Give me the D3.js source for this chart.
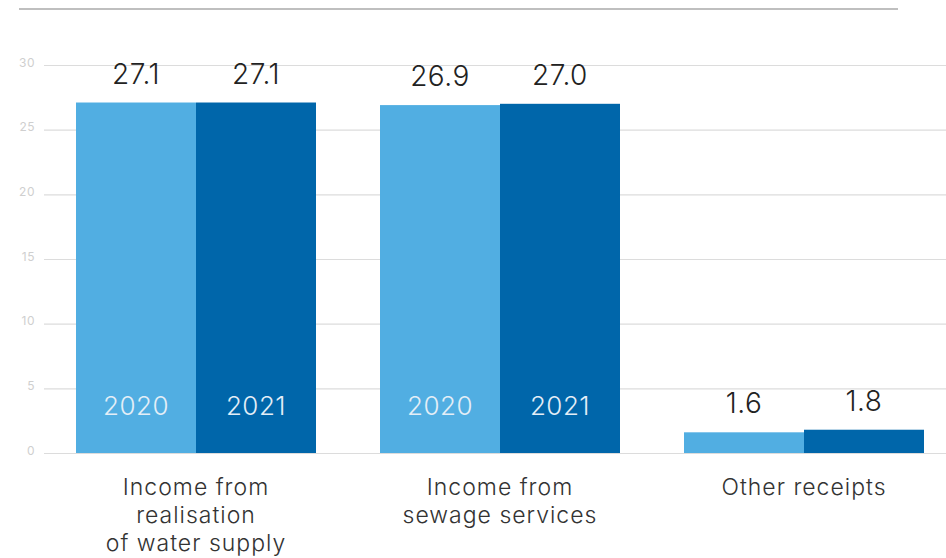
<!DOCTYPE html>
<html>
<head>
<meta charset="utf-8">
<script src="https://cdn.jsdelivr.net/npm/d3@7"></script>
<style>
  body { margin: 0; background: #fff; }
  text { font-family: Inter, Lato, "Open Sans", sans-serif; }
</style>
</head>
<body>
<div id="chart"></div>
<script>
const categories = [
  ["Income from", "realisation", "of water supply"],
  ["Income from", "sewage services"],
  ["Other receipts"]
];
const years = ["2020", "2021"];
const values2020 = [27.1, 26.9, 1.6];
const values2021 = [27.1, 27.0, 1.8];
const yTicks = [0, 5, 10, 15, 20, 25, 30];
const showYears = [true, true, false];

const width = 946, height = 558;
const colors = { "2020": "#51aee2", "2021": "#0066aa" };

const svg = d3.select("#chart")
  .append("svg")
  .attr("width", width)
  .attr("height", height);

const keys = d3.range(categories.length);
const data = keys.map(i => ({
  idx: i,
  lines: categories[i],
  vals: [values2020[i], values2021[i]]
}));

const xScale = d3.scaleBand()
  .domain(keys)
  .range([76, 924])
  .paddingInner(64 / 304)
  .paddingOuter(0);

const xInner = d3.scaleBand()
  .domain(years)
  .range([0, xScale.bandwidth()]);

const yScale = d3.scaleLinear()
  .domain([0, 30])
  .range([453, 65]);

// top rule
svg.append("line")
  .attr("x1", 19).attr("x2", 898)
  .attr("y1", 9).attr("y2", 9)
  .attr("stroke", "#aaa")
  .attr("stroke-width", 1.5);

// gridlines and tick labels
const yAxis = d3.axisLeft(yScale)
  .tickValues(yTicks)
  .tickSize(-(width - 44))
  .tickPadding(9);

const yAxisGroup = svg.append("g")
  .attr("transform", "translate(44,0)")
  .call(yAxis);
yAxisGroup.select(".domain").remove();
yAxisGroup.selectAll(".tick line")
  .attr("stroke", "#dcdcdc")
  .attr("stroke-width", 1.2);
yAxisGroup.selectAll(".tick text")
  .attr("fill", "#cfcfcf")
  .attr("dy", "0.1em")
  .style("font-size", "12px")
  .style("letter-spacing", "0.5px");

// bars
const groups = svg.selectAll(".group")
  .data(data)
  .enter()
  .append("g")
  .attr("class", "group")
  .attr("transform", d => `translate(${xScale(d.idx)},0)`);

groups.selectAll("rect")
  .data(d => d.vals.map((v, j) => ({ year: years[j], value: v })))
  .enter()
  .append("rect")
  .attr("x", d => xInner(d.year))
  .attr("y", d => yScale(d.value))
  .attr("width", xInner.bandwidth())
  .attr("height", d => yScale(0) - yScale(d.value))
  .attr("fill", d => colors[d.year]);

// value labels
groups.selectAll(".value")
  .data(d => d.vals.map((v, j) => ({ year: years[j], value: v })))
  .enter()
  .append("text")
  .attr("class", "value")
  .attr("x", d => xInner(d.year) + xInner.bandwidth() / 2)
  .attr("y", d => yScale(d.value) - 19)
  .attr("text-anchor", "middle")
  .attr("fill", "#222")
  .style("font-size", "28px")
  .style("font-weight", 300)
  .style("letter-spacing", "0.5px")
  .text(d => d3.format(".1f")(d.value));

// year labels inside bars
groups.filter(d => showYears[d.idx])
  .selectAll(".year")
  .data(years)
  .enter()
  .append("text")
  .attr("class", "year")
  .attr("x", d => xInner(d) + xInner.bandwidth() / 2)
  .attr("y", 415)
  .attr("text-anchor", "middle")
  .attr("fill", "#e4eef7")
  .style("font-size", "26px")
  .style("font-weight", 300)
  .style("letter-spacing", "0.5px")
  .text(d => d);

// category labels
groups.append("text")
  .attr("class", "category")
  .attr("x", xScale.bandwidth() / 2)
  .attr("y", 495)
  .attr("text-anchor", "middle")
  .attr("fill", "#333")
  .style("font-size", "23px")
  .style("font-weight", 300)
  .style("letter-spacing", "1px")
  .selectAll("tspan")
  .data(d => d.lines)
  .enter()
  .append("tspan")
  .attr("x", xScale.bandwidth() / 2)
  .attr("dy", (d, i) => i === 0 ? 0 : 28)
  .text(d => d);
</script>
</body>
</html>
